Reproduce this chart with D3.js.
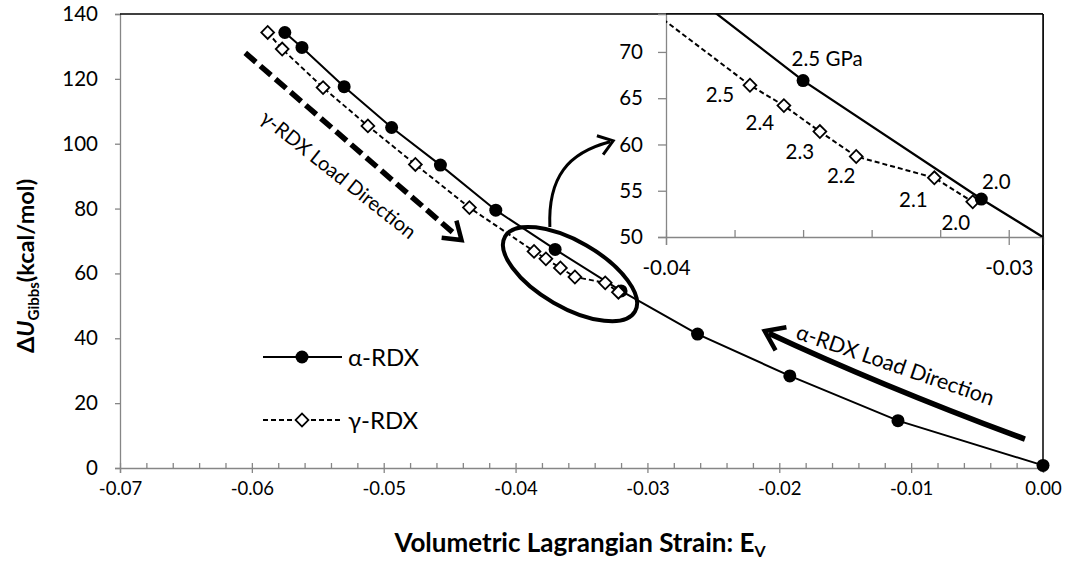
<!DOCTYPE html>
<html>
<head>
<meta charset="utf-8">
<script src="https://cdn.jsdelivr.net/npm/d3@7"></script>
<style>
  body { margin: 0; background: #fff; }
  text { font-family: Lato, "Open Sans", sans-serif; fill: #000; }
</style>
</head>
<body>
<svg id="chart" width="1070" height="561"></svg>
<script>
// Gibbs energy change of α-RDX and γ-RDX against volumetric Lagrangian strain

// α-RDX series
const alphaStrain = [-0.0575, -0.0562, -0.0530, -0.0494, -0.0457, -0.0415, -0.0370, -0.0320, -0.0262, -0.0192, -0.0110, 0.0];
const alphaEnergy = [134.3, 129.7, 117.6, 105.0, 93.4, 79.5, 67.4, 54.6, 41.3, 28.4, 14.6, 0.8];

// γ-RDX series
const gammaStrain = [-0.0588, -0.0577, -0.0546, -0.0512, -0.0476, -0.0435, -0.0386, -0.0377, -0.0366, -0.0355, -0.0332, -0.0322];
const gammaEnergy = [134.3, 129.2, 117.3, 105.5, 93.6, 80.3, 66.8, 64.5, 61.7, 58.9, 57.1, 54.2];

// Zoomed panel around the 2.0–2.5 GPa transition (pressure labels in GPa)
const insetAlphaStrain   = [-0.0404, -0.0360, -0.0308, -0.0252];
const insetAlphaEnergy   = [79.5, 66.9, 54.1, 41.3];
const insetAlphaPressure = [null, "2.5 GPa", "2.0", null];
const insetGammaStrain   = [-0.0425, -0.03755, -0.03656, -0.03551, -0.03445, -0.03217, -0.03105];
const insetGammaEnergy   = [80.3, 66.4, 64.2, 61.4, 58.7, 56.4, 53.8];
const insetGammaPressure = [null, "2.5", "2.4", "2.3", "2.2", "2.1", "2.0"];

// Axis ticks
const xTicks = [-0.07, -0.06, -0.05, -0.04, -0.03, -0.02, -0.01, 0.0];
const yTicks = [0, 20, 40, 60, 80, 100, 120, 140];
const insetXTicks = [-0.04, -0.03];
const insetYTicks = [50, 55, 60, 65, 70];

const seriesNames = ["α-RDX", "γ-RDX"];

// ---------------------------------------------------------------
const svg = d3.select("#chart");
const W = 1070, H = 561;
svg.append("rect").attr("width", W).attr("height", H).attr("fill", "#fff");

const locale = d3.formatLocale({ decimal: ".", thousands: ",", grouping: [3], currency: ["", ""], minus: "-" });
const fmt2 = locale.format(".2f");
const fmt0 = locale.format(".0f");

const AXIS_GRAY = "#868686";
const plot = { left: 120, right: 1043, top: 14, bottom: 468 };

const x = d3.scaleLinear().domain([-0.07, 0]).range([plot.left, plot.right]);
const y = d3.scaleLinear().domain([0, 140]).range([plot.bottom, plot.top]);

const zip = (xs, ys) => xs.map((v, i) => ({ x: v, y: ys[i], i }));
const alphaPts = zip(alphaStrain, alphaEnergy);
const gammaPts = zip(gammaStrain, gammaEnergy);

function styleAxis(g, showDomain) {
  g.selectAll("line").attr("stroke", AXIS_GRAY).attr("stroke-width", 1.3);
  g.select(".domain").attr("stroke", showDomain ? AXIS_GRAY : "none").attr("stroke-width", 1.3);
}

// evenly spaced minor tick values
function minorTicks(lo, hi, step) {
  const n = Math.round((hi - lo) / step);
  return d3.range(n + 1).map(k => +(lo + k * step).toFixed(4));
}

// ---- main axes ----
const gx = svg.append("g").attr("transform", `translate(0,${plot.bottom})`)
  .call(d3.axisBottom(x).tickValues(xTicks).tickSize(5).tickPadding(9).tickFormat(fmt2));
styleAxis(gx, true);
gx.selectAll("text").attr("font-size", 18.5).attr("font-family", "Lato");

const gxMinor = svg.append("g").attr("transform", `translate(0,${plot.bottom})`)
  .call(d3.axisTop(x).tickValues(minorTicks(-0.07, 0, 0.002)).tickSize(5).tickFormat(""));
styleAxis(gxMinor, false);

const gy = svg.append("g").attr("transform", `translate(${plot.left},0)`)
  .call(d3.axisLeft(y).tickValues(yTicks).tickSize(5).tickPadding(17).tickFormat(fmt0));
styleAxis(gy, true);
gy.selectAll("text").attr("font-size", 20.5).attr("font-family", "Lato");

// black frame on top and right
svg.append("line").attr("x1", plot.left).attr("x2", plot.right).attr("y1", plot.top).attr("y2", plot.top)
  .attr("stroke", "#000").attr("stroke-width", 1.5);
svg.append("line").attr("x1", plot.right).attr("x2", plot.right).attr("y1", plot.top).attr("y2", plot.bottom)
  .attr("stroke", "#000").attr("stroke-width", 1.5);

// ---- axis titles ----
const xt = svg.append("text").attr("x", 580).attr("y", 552).attr("text-anchor", "middle")
  .attr("font-size", 26).attr("font-weight", "bold");
xt.append("tspan").text("Volumetric Lagrangian Strain: E");
xt.append("tspan").attr("font-size", 16).attr("dy", 5).text("V");

const yt = svg.append("text").attr("transform", `translate(34,266) rotate(-90)`)
  .attr("text-anchor", "middle").attr("font-size", 23.5).attr("font-weight", "bold");
yt.append("tspan").text("Δ");
yt.append("tspan").attr("font-style", "italic").text("U");
yt.append("tspan").attr("font-size", 15).attr("dy", 5).text("Gibbs");
yt.append("tspan").attr("dy", -5).text("(kcal/mol)");

// ---- series ----
function drawSeries(g, pts, sx, sy, kind, w) {
  const line = d3.line().x(d => sx(d.x)).y(d => sy(d.y));
  g.append("path").datum(pts).attr("d", line).attr("fill", "none").attr("stroke", "#000")
    .attr("stroke-width", w)
    .attr("stroke-dasharray", kind === "alpha" ? null : "5,3");
}
const diamond = d3.symbol().type(d3.symbolSquare).size(82);
function drawMarkers(g, pts, sx, sy, kind) {
  if (kind === "alpha") {
    g.selectAll(null).data(pts).join("circle")
      .attr("cx", d => sx(d.x)).attr("cy", d => sy(d.y)).attr("r", 6.5).attr("fill", "#000");
  } else {
    g.selectAll(null).data(pts).join("path")
      .attr("d", diamond)
      .attr("transform", d => `translate(${sx(d.x)},${sy(d.y)}) rotate(45)`)
      .attr("fill", "#fff").attr("stroke", "#000").attr("stroke-width", 1.8);
  }
}

const gMain = svg.append("g");
drawSeries(gMain, alphaPts, x, y, "alpha", 2);
drawSeries(gMain, gammaPts, x, y, "gamma", 1.9);
drawMarkers(gMain, alphaPts, x, y, "alpha");
drawMarkers(gMain, gammaPts, x, y, "gamma");

// ---- legend ----
const legend = svg.append("g");
seriesNames.forEach((name, k) => {
  const ly = 357 + k * 63;
  const kind = k === 0 ? "alpha" : "gamma";
  legend.append("line").attr("x1", 263).attr("x2", 342).attr("y1", ly).attr("y2", ly)
    .attr("stroke", "#000").attr("stroke-width", kind === "alpha" ? 2 : 1.9)
    .attr("stroke-dasharray", kind === "alpha" ? null : "5,3");
  if (kind === "alpha") {
    legend.append("circle").attr("cx", 302).attr("cy", ly).attr("r", 6.5).attr("fill", "#000");
  } else {
    legend.append("path").attr("d", diamond)
      .attr("transform", `translate(302,${ly}) rotate(45)`)
      .attr("fill", "#fff").attr("stroke", "#000").attr("stroke-width", 1.8);
  }
  legend.append("text").attr("x", 348).attr("y", ly + 8.5).attr("font-size", 24).text(name);
});

// ---- load-direction annotations ----
function arrowHead(g, tipX, tipY, angle, len, spread, width) {
  const a1 = angle + Math.PI - spread, a2 = angle + Math.PI + spread;
  g.append("path")
    .attr("d", `M${tipX + len * Math.cos(a1)},${tipY + len * Math.sin(a1)} L${tipX},${tipY} L${tipX + len * Math.cos(a2)},${tipY + len * Math.sin(a2)}`)
    .attr("fill", "none").attr("stroke", "#000").attr("stroke-width", width)
    .attr("stroke-linejoin", "miter").attr("stroke-linecap", "butt");
}

const ann = svg.append("g");

// γ-RDX loading: straight dashed arrow
{
  const x0 = x(-0.0605), y0 = y(128), x1 = x(-0.0441), y1 = y(70.3);
  const ang = Math.atan2(y1 - y0, x1 - x0);
  ann.append("line").attr("x1", x0).attr("y1", y0)
    .attr("x2", x1 - 6 * Math.cos(ang)).attr("y2", y1 - 6 * Math.sin(ang))
    .attr("stroke", "#000").attr("stroke-width", 5.5).attr("stroke-dasharray", "14,6");
  arrowHead(ann, x1, y1, ang, 20, 0.6, 4.5);
  ann.append("text").attr("transform", `translate(334,180) rotate(38.5)`)
    .attr("text-anchor", "middle").attr("font-size", 20).text("γ-RDX Load Direction");
}

// α-RDX loading: curved solid arrow
{
  const p0 = [x(-0.00137), y(8.9)], c = [x(-0.0124), y(25.6)], p1 = [x(-0.0211), y(42.2)];
  ann.append("path").attr("d", `M${p0[0]},${p0[1]} Q${c[0]},${c[1]} ${p1[0] + 4},${p1[1] + 2}`)
    .attr("fill", "none").attr("stroke", "#000").attr("stroke-width", 5.5);
  const ang = Math.atan2(p1[1] - c[1], p1[0] - c[0]);
  arrowHead(ann, p1[0], p1[1], ang, 22, 0.62, 4.5);
  ann.append("text").attr("transform", `translate(893,372) rotate(19)`)
    .attr("text-anchor", "middle").attr("font-size", 21.5).text("α-RDX Load Direction");
}

// ellipse around the transition region and arrow to the zoomed panel
{
  const ex = x(-0.03587), ey = y(59.8);
  ann.append("ellipse").attr("cx", 0).attr("cy", 0).attr("rx", 75).attr("ry", 33)
    .attr("transform", `translate(${ex},${ey}) rotate(30)`)
    .attr("fill", "none").attr("stroke", "#000").attr("stroke-width", 4);
  const s = [x(-0.0374), y(74.3)], tip = [x(-0.0326), y(100.9)];
  ann.append("path").attr("d", `M${s[0]},${s[1]} C${s[0] - 2},${s[1] - 50} ${s[0] + 18},${tip[1] + 12} ${tip[0] - 3},${tip[1] + 1}`)
    .attr("fill", "none").attr("stroke", "#000").attr("stroke-width", 3);
  arrowHead(ann, tip[0], tip[1], -0.32, 17, 0.62, 3);
}

// ---- zoomed panel ----
const inset = { left: 666, right: 1043, top: 14, bottom: 237 };
const ix = d3.scaleLinear().domain([-0.04, -0.029]).range([inset.left, inset.right]);
const iy = d3.scaleLinear().domain([50, 74.1]).range([inset.bottom, inset.top]);

svg.append("rect").attr("x", inset.left).attr("y", inset.top)
  .attr("width", inset.right - inset.left).attr("height", inset.bottom - inset.top).attr("fill", "#fff");

svg.append("clipPath").attr("id", "insetClip").append("rect")
  .attr("x", inset.left).attr("y", inset.top)
  .attr("width", inset.right - inset.left).attr("height", inset.bottom - inset.top);

const gix = svg.append("g").attr("transform", `translate(0,${inset.bottom})`)
  .call(d3.axisBottom(ix).tickValues(insetXTicks).tickSize(8).tickPadding(15).tickFormat(fmt2));
styleAxis(gix, true);
gix.selectAll("text").attr("font-size", 20.5).attr("font-family", "Lato");
const gixMinor = svg.append("g").attr("transform", `translate(0,${inset.bottom})`)
  .call(d3.axisTop(ix).tickValues(minorTicks(-0.04, -0.03, 0.002)).tickSize(7).tickFormat(""));
styleAxis(gixMinor, false);

const giy = svg.append("g").attr("transform", `translate(${inset.left},0)`)
  .call(d3.axisLeft(iy).tickValues(insetYTicks).tickSize(8).tickPadding(15).tickFormat(fmt0));
styleAxis(giy, true);
giy.selectAll("text").attr("font-size", 20.5).attr("font-family", "Lato");

svg.append("line").attr("x1", inset.left).attr("x2", inset.right).attr("y1", inset.top).attr("y2", inset.top)
  .attr("stroke", "#000").attr("stroke-width", 1.5);
svg.append("line").attr("x1", inset.right).attr("x2", inset.right).attr("y1", inset.top).attr("y2", 290)
  .attr("stroke", "#000").attr("stroke-width", 1.5);

const insetAlpha = zip(insetAlphaStrain, insetAlphaEnergy).map(d => ({ ...d, p: insetAlphaPressure[d.i] }));
const insetGamma = zip(insetGammaStrain, insetGammaEnergy).map(d => ({ ...d, p: insetGammaPressure[d.i] }));

const gInset = svg.append("g").attr("clip-path", "url(#insetClip)");
drawSeries(gInset, insetAlpha, ix, iy, "alpha", 2.3);
drawSeries(gInset, insetGamma, ix, iy, "gamma", 2);
drawMarkers(gInset, insetGamma.filter(d => d.p), ix, iy, "gamma");
drawMarkers(gInset, insetAlpha.filter(d => d.p), ix, iy, "alpha");

// pressure labels: α above-right, γ below-left
const alphaLabelOffset = [null, [24, -15], [15, -10], null];
const gammaLabelOffset = [null, [-30, 17], [-24, 24], [-20, 27], [-15, 27], [-21, 29], [-17, 28]];
insetAlpha.filter(d => d.p).forEach(d => {
  const o = alphaLabelOffset[d.i];
  svg.append("text").attr("x", ix(d.x) + o[0]).attr("y", iy(d.y) + o[1])
    .attr("text-anchor", "middle").attr("font-size", 20.5).text(d.p);
});
insetGamma.filter(d => d.p).forEach(d => {
  const o = gammaLabelOffset[d.i];
  svg.append("text").attr("x", ix(d.x) + o[0]).attr("y", iy(d.y) + o[1])
    .attr("text-anchor", "middle").attr("font-size", 20.5).text(d.p);
});
</script>
</body>
</html>
